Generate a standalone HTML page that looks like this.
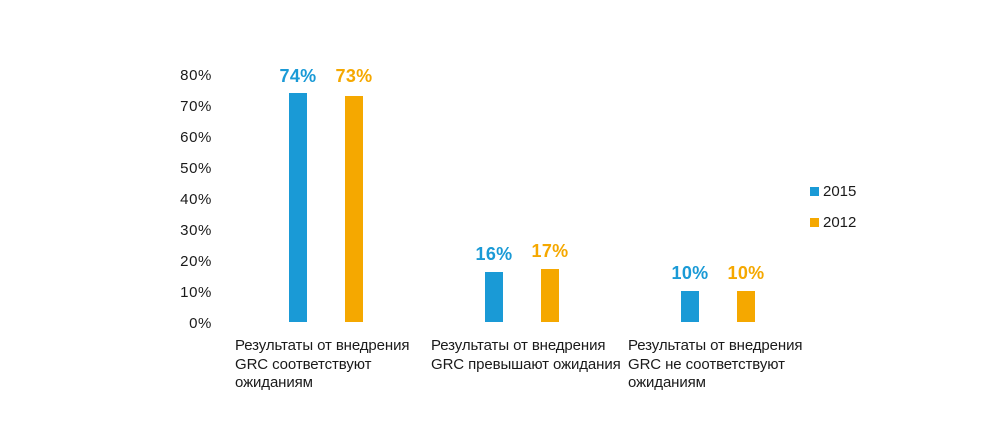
<!DOCTYPE html>
<html><head><meta charset="utf-8"><style>
body{margin:0;width:1000px;height:426px;background:#fff;position:relative;overflow:hidden;font-family:"Liberation Sans",sans-serif;color:#1a1a1a}
.t{position:absolute;font-size:15px;line-height:16px}
.y{position:absolute;left:160px;width:52px;text-align:right;font-size:15px;line-height:16px;letter-spacing:0.6px}
.b{position:absolute;width:18px;bottom:104px}
.bl{background:#1a9ad6}.or{background:#f5a800}
.v{position:absolute;width:60px;text-align:center;font-size:18px;font-weight:bold;line-height:20px;letter-spacing:0.3px}
.c{position:absolute;top:337px;font-size:15px;line-height:18.5px;letter-spacing:-0.1px;white-space:nowrap}
</style></head><body>
<div class="y" style="top:68px">80%</div>
<div class="y" style="top:99px">70%</div>
<div class="y" style="top:130px">60%</div>
<div class="y" style="top:161px">50%</div>
<div class="y" style="top:192px">40%</div>
<div class="y" style="top:223px">30%</div>
<div class="y" style="top:254px">20%</div>
<div class="y" style="top:285px">10%</div>
<div class="y" style="top:316px">0%</div>

<div class="b bl" style="left:289px;top:93px"></div>
<div class="b or" style="left:345px;top:96px"></div>
<div class="b bl" style="left:485px;top:272px"></div>
<div class="b or" style="left:541px;top:269px"></div>
<div class="b bl" style="left:681px;top:291px"></div>
<div class="b or" style="left:737px;top:291px"></div>

<div class="v" style="left:268px;top:66px;color:#1a9ad6">74%</div>
<div class="v" style="left:324px;top:66px;color:#f5a800">73%</div>
<div class="v" style="left:464px;top:244px;color:#1a9ad6">16%</div>
<div class="v" style="left:520px;top:241px;color:#f5a800">17%</div>
<div class="v" style="left:660px;top:263px;color:#1a9ad6">10%</div>
<div class="v" style="left:716px;top:263px;color:#f5a800">10%</div>

<div class="c" style="left:235px">Результаты от внедрения<br>GRC соответствуют<br>ожиданиям</div>
<div class="c" style="left:431px">Результаты от внедрения<br>GRC превышают ожидания</div>
<div class="c" style="left:628px">Результаты от внедрения<br>GRC не соответствуют<br>ожиданиям</div>

<div style="position:absolute;left:810px;top:187px;width:9px;height:9px;background:#1a9ad6"></div>
<div class="t" style="left:823px;top:184px">2015</div>
<div style="position:absolute;left:810px;top:218px;width:9px;height:9px;background:#f5a800"></div>
<div class="t" style="left:823px;top:215px">2012</div>
</body></html>
